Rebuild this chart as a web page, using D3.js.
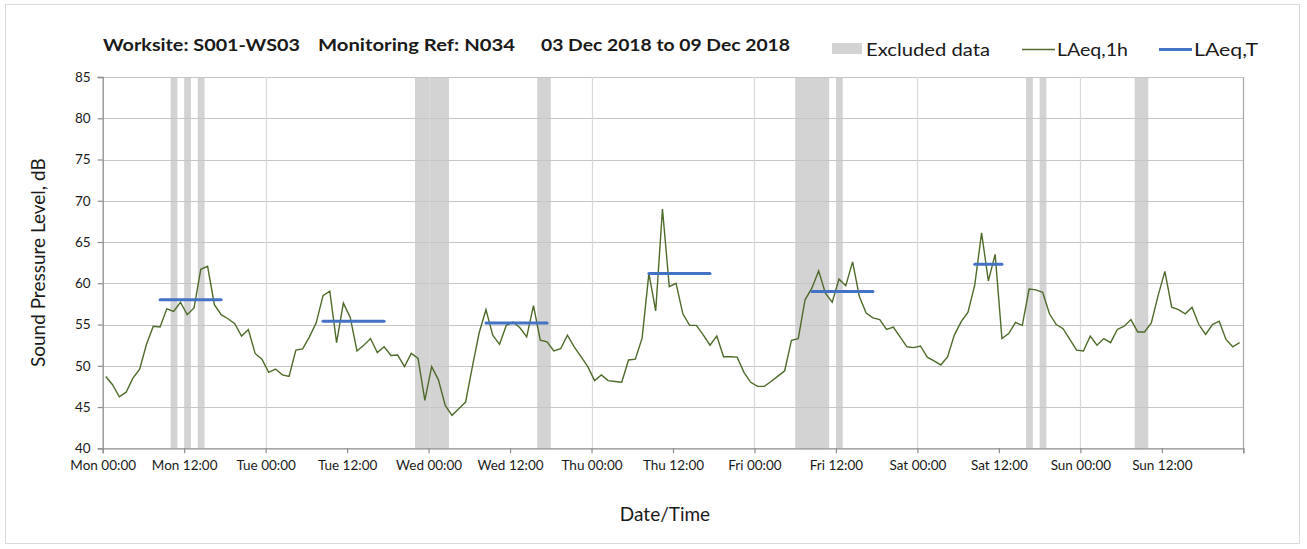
<!DOCTYPE html>
<html>
<head>
<meta charset="utf-8">
<script src="https://cdn.jsdelivr.net/npm/d3@7"></script>
<style>
  html, body { margin: 0; padding: 0; background: #fff; }
  svg { display: block; }
  text { font-family: Lato, "Open Sans", "DejaVu Sans", sans-serif; fill: #1a1a1a; }
</style>
</head>
<body>
<svg id="chart" width="1307" height="549"></svg>
<script>
// ---- Data ----
// Hourly LAeq,1h values, Mon 00:00 (hour 0) to Sun 23:00 (hour 167)
const laeq1h = [
  48.7, 47.7, 46.25, 46.8, 48.5, 49.6, 52.6, 54.8, 54.7, 56.9, 56.6, 57.7,
  56.2, 57.0, 61.7, 62.05, 57.4, 56.2, 55.7, 55.1, 53.6, 54.4, 51.5, 50.8,
  49.2, 49.6, 48.9, 48.7, 51.9, 52.05, 53.5, 55.2, 58.5, 59.05, 52.8, 57.6,
  55.9, 51.8, 52.5, 53.3, 51.6, 52.3, 51.25, 51.3, 49.9, 51.5, 50.9, 45.8,
  49.9, 48.3, 45.2, 44.0, 44.8, 45.6, 49.9, 54.0, 56.8, 53.7, 52.6, 54.9,
  55.3, 54.6, 53.5, 57.3, 53.1, 52.9, 51.8, 52.06, 53.7, 52.3, 51.1, 49.9,
  48.2, 48.9, 48.2, 48.1, 48.0, 50.7, 50.8, 53.35, 61.2, 56.65, 69.0, 59.6,
  60.0, 56.3, 54.9, 54.9, 53.75, 52.5, 53.6, 51.1, 51.1, 51.05, 49.2, 48.0,
  47.5, 47.5, 48.1, 48.75, 49.4, 53.1, 53.3, 58.0, 59.4, 61.5, 58.8, 57.7,
  60.5, 59.7, 62.6, 58.4, 56.4, 55.8, 55.6, 54.4, 54.7, 53.5, 52.3, 52.2,
  52.4, 51.05, 50.6, 50.1, 51.1, 53.75, 55.35, 56.5, 59.8, 66.1, 60.3, 63.5,
  53.3, 53.9, 55.25, 54.9, 59.3, 59.2, 58.9, 56.3, 55.0, 54.5, 53.2, 51.9,
  51.8, 53.6, 52.5, 53.3, 52.8, 54.4, 54.8, 55.6, 54.1, 54.1, 55.2, 58.5,
  61.45, 57.1, 56.8, 56.3, 57.1, 55.0, 53.8, 55.0, 55.4, 53.2, 52.3, 52.8
];

// LAeq,T periods: first hour, last hour, level
const laeqTStart = [8, 32, 56, 80, 104, 128];
const laeqTEnd   = [17, 41, 65, 89, 113, 132];
const laeqTValue = [58.0, 55.4, 55.2, 61.2, 59.0, 62.3];

// Excluded data periods (hours from Mon 00:00)
const excludedStart = [10, 12, 14, 46, 64, 102, 108, 136, 138, 152];
const excludedEnd   = [11, 13, 15, 51, 66, 107, 109, 137, 139, 154];

const dayNames = ["Mon", "Tue", "Wed", "Thu", "Fri", "Sat", "Sun"];
const yTicks = [40, 45, 50, 55, 60, 65, 70, 75, 80, 85];

const titleParts = ["Worksite: S001-WS03", "Monitoring Ref: N034", "03 Dec 2018 to 09 Dec 2018"];
const legendLabels = ["Excluded data", "LAeq,1h", "LAeq,T"];

// ---- Layout ----
const svg = d3.select("#chart");
const pLeft = 102.7, pRight = 1243.3, pTop = 77, pBottom = 448.3;
const x = d3.scaleLinear().domain([0, 168]).range([pLeft, pRight]);
const y = d3.scaleLinear().domain([40, 85]).range([pBottom, pTop]);

const green = "#4F6B2A", blue = "#4472C4", band = "#D3D3D3";

// outer border
svg.append("rect").attr("x", 5.5).attr("y", 4.5).attr("width", 1294).attr("height", 539)
  .attr("fill", "none").attr("stroke", "#D9D9D9").attr("stroke-width", 1);

// excluded bands
svg.append("g").selectAll("rect").data(excludedStart).join("rect")
  .attr("x", (d) => x(d))
  .attr("width", (d, i) => x(excludedEnd[i]) - x(d))
  .attr("y", pTop).attr("height", pBottom - pTop)
  .attr("fill", band);

// horizontal gridlines
svg.append("g").selectAll("line").data(yTicks.filter(v => v > 40)).join("line")
  .attr("x1", pLeft).attr("x2", pRight)
  .attr("y1", d => Math.round(y(d)) + 0.5).attr("y2", d => Math.round(y(d)) + 0.5)
  .attr("stroke", "#C6C6C6").attr("stroke-width", 1.2);

// vertical gridlines every 24h
const dayTicks = d3.range(24, 169, 24);
svg.append("g").selectAll("line").data(dayTicks).join("line")
  .attr("x1", d => Math.round(x(d)) + 0.5).attr("x2", d => Math.round(x(d)) + 0.5)
  .attr("y1", pTop).attr("y2", pBottom)
  .attr("stroke", d => d === 168 ? "#A6A6A6" : "#D9D9D9").attr("stroke-width", 1.2);

// axes
const xTickVals = d3.range(0, 169, 12);
const xAxis = d3.axisBottom(x).tickValues(xTickVals).tickSize(5)
  .tickFormat(d => d >= 168 ? "" : dayNames[Math.floor(d / 24)] + " " + (d % 24 === 0 ? "00:00" : "12:00"));
const gx = svg.append("g").attr("transform", `translate(0,${pBottom})`).call(xAxis);
gx.select(".domain").attr("stroke", "#8C8C8C").attr("stroke-width", 1.3);
gx.selectAll(".tick line").attr("stroke", "#8C8C8C").attr("stroke-width", 1.2);
gx.selectAll(".tick text").attr("font-size", 13.5).attr("dy", "1.05em").attr("fill", "#1a1a1a")
  .attr("font-family", "Lato, 'Open Sans', sans-serif");

const yAxis = d3.axisLeft(y).tickValues(yTicks).tickSize(5).tickFormat(d3.format("d"));
const gy = svg.append("g").attr("transform", `translate(${pLeft},0)`).call(yAxis);
gy.select(".domain").attr("stroke", "#8C8C8C").attr("stroke-width", 1.3);
gy.selectAll(".tick line").attr("stroke", "#8C8C8C").attr("stroke-width", 1.2);
gy.selectAll(".tick text").attr("font-size", 13.5).attr("x", -12).attr("fill", "#1a1a1a")
  .attr("font-family", "Lato, 'Open Sans', sans-serif");

// LAeq,1h line
const line = d3.line().x((d, i) => x(i + 0.45)).y(d => y(d));
svg.append("path").datum(laeq1h).attr("d", line)
  .attr("fill", "none").attr("stroke", green).attr("stroke-width", 1.4).attr("stroke-linejoin", "miter");

// LAeq,T lines
svg.append("g").selectAll("line").data(laeqTValue).join("line")
  .attr("x1", (d, i) => x(laeqTStart[i] + 0.45)).attr("x2", (d, i) => x(laeqTEnd[i] + 0.45))
  .attr("y1", d => y(d)).attr("y2", d => y(d))
  .attr("stroke", blue).attr("stroke-width", 3).attr("stroke-linecap", "round");

// title
const titleX = [103, 318, 541];
const titleW = [197, 197, 249];
svg.append("g").selectAll("text").data(titleParts).join("text")
  .attr("x", (d, i) => titleX[i]).attr("y", 51)
  .attr("textLength", (d, i) => titleW[i]).attr("lengthAdjust", "spacingAndGlyphs")
  .attr("font-size", 17).attr("font-weight", "bold").text(d => d);

// legend
const lg = svg.append("g");
lg.append("rect").attr("x", 832).attr("y", 43).attr("width", 30).attr("height", 11).attr("fill", band);
lg.append("line").attr("x1", 1022).attr("x2", 1055).attr("y1", 49.5).attr("y2", 49.5)
  .attr("stroke", green).attr("stroke-width", 1.4);
lg.append("line").attr("x1", 1159).attr("x2", 1192).attr("y1", 49.5).attr("y2", 49.5)
  .attr("stroke", blue).attr("stroke-width", 3);
const legX = [866, 1057, 1194];
const legW = [124, 71, 64];
lg.selectAll("text").data(legendLabels).join("text")
  .attr("x", (d, i) => legX[i]).attr("y", 55.5)
  .attr("textLength", (d, i) => legW[i]).attr("lengthAdjust", "spacingAndGlyphs")
  .attr("font-size", 18).text(d => d);

// axis titles
svg.append("text").attr("x", 665).attr("y", 521).attr("text-anchor", "middle")
  .attr("font-size", 19).text("Date/Time");
svg.append("text").attr("transform", `translate(45,${(pTop + pBottom) / 2}) rotate(-90)`)
  .attr("text-anchor", "middle").attr("font-size", 19).text("Sound Pressure Level, dB");
</script>
</body>
</html>
